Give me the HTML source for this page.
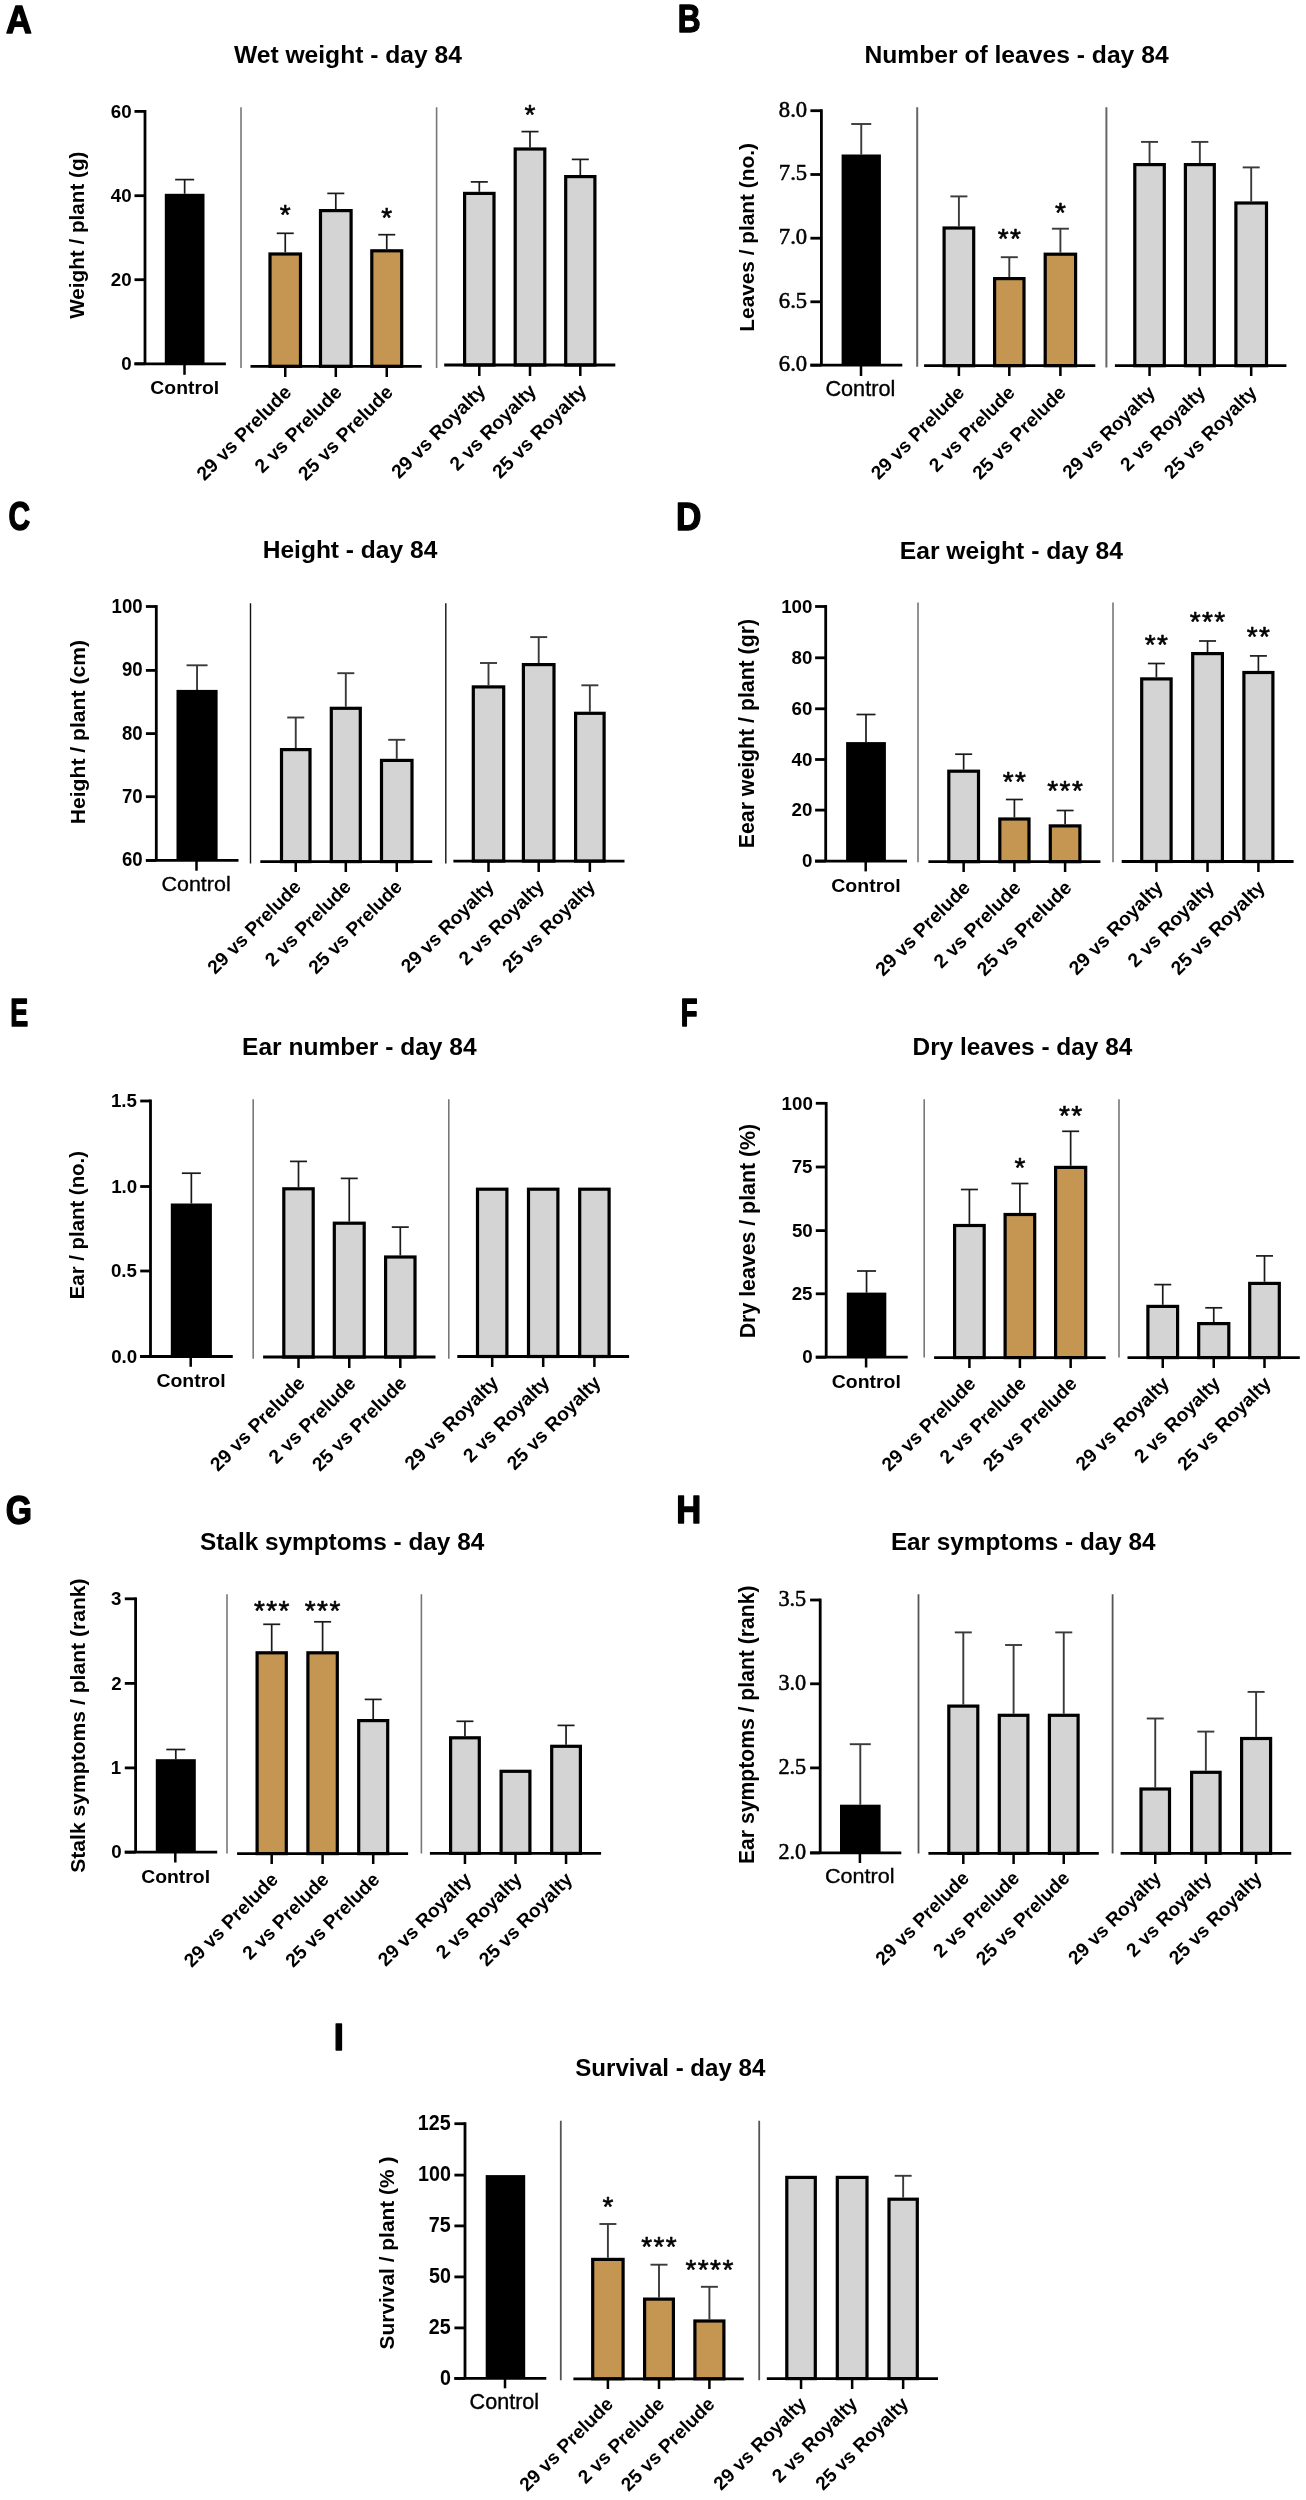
<!DOCTYPE html>
<html><head><meta charset="utf-8"><title>Figure</title>
<style>html,body{margin:0;padding:0;background:#fff;} svg{display:block;will-change:transform;}</style>
</head><body>
<svg width="1306" height="2500" viewBox="0 0 1306 2500">
<rect width="1306" height="2500" fill="#fff"/>
<!-- panel A -->
<text x="6.11" y="32.8" font-family='"Liberation Sans", sans-serif' font-weight="bold" font-size="38.26" textLength="25.76" lengthAdjust="spacingAndGlyphs" stroke="#000" stroke-width="1.4" stroke-linejoin="round">A</text>
<text x="233.9" y="62.8" font-family='"Liberation Sans", sans-serif' font-weight="bold" font-size="24.64">Wet weight - day 84</text>
<text transform="translate(84.2,318.8) rotate(-90)" font-family='"Liberation Sans", sans-serif' font-weight="bold" font-size="20.68">Weight / plant (g)</text>
<line x1="145" y1="110" x2="145" y2="363.8" stroke="#000" stroke-width="2.8"/>
<line x1="134.5" y1="111.4" x2="145" y2="111.4" stroke="#000" stroke-width="2.8"/>
<text x="110.76" y="117.65" font-family='"Liberation Sans", sans-serif' font-weight="bold" font-size="18.73" textLength="20.84" lengthAdjust="spacingAndGlyphs">60</text>
<line x1="134.5" y1="195.7" x2="145" y2="195.7" stroke="#000" stroke-width="2.8"/>
<text x="110.76" y="201.95" font-family='"Liberation Sans", sans-serif' font-weight="bold" font-size="18.73" textLength="20.84" lengthAdjust="spacingAndGlyphs">40</text>
<line x1="134.5" y1="279.7" x2="145" y2="279.7" stroke="#000" stroke-width="2.8"/>
<text x="110.76" y="285.95" font-family='"Liberation Sans", sans-serif' font-weight="bold" font-size="18.73" textLength="20.84" lengthAdjust="spacingAndGlyphs">20</text>
<line x1="134.5" y1="363.8" x2="145" y2="363.8" stroke="#000" stroke-width="2.8"/>
<text x="121.15" y="370.05" font-family='"Liberation Sans", sans-serif' font-weight="bold" font-size="18.73" textLength="10.42" lengthAdjust="spacingAndGlyphs">0</text>
<line x1="184.65" y1="179.6" x2="184.65" y2="193.8" stroke="#1a1a1a" stroke-width="1.7"/>
<line x1="175.15" y1="179.6" x2="194.15" y2="179.6" stroke="#1a1a1a" stroke-width="1.7"/>
<rect x="164.8" y="193.8" width="39.7" height="170" fill="#000"/>
<line x1="134.5" y1="363.8" x2="225.9" y2="363.8" stroke="#000" stroke-width="2.8"/>
<line x1="184.5" y1="363.8" x2="184.5" y2="374.8" stroke="#000" stroke-width="2.52"/>
<line x1="241" y1="107.2" x2="241" y2="368" stroke="#777" stroke-width="1.6"/>
<line x1="436.6" y1="107.2" x2="436.6" y2="368" stroke="#777" stroke-width="1.6"/>
<line x1="285.25" y1="233.3" x2="285.25" y2="252.4" stroke="#1a1a1a" stroke-width="1.7"/>
<line x1="276.75" y1="233.3" x2="293.75" y2="233.3" stroke="#1a1a1a" stroke-width="1.7"/>
<rect x="270" y="254" width="30.5" height="112.3" fill="#C59552" stroke="#000" stroke-width="3.2"/>
<line x1="285.25" y1="366.3" x2="285.25" y2="377" stroke="#000" stroke-width="2.52"/>
<text x="279.79" y="224.42" letter-spacing="1.4" font-family='"Liberation Sans", sans-serif' font-size="28" stroke="#000" stroke-width="0.6" stroke-linejoin="round">*</text>
<line x1="335.8" y1="193.4" x2="335.8" y2="209" stroke="#1a1a1a" stroke-width="1.7"/>
<line x1="327.3" y1="193.4" x2="344.3" y2="193.4" stroke="#1a1a1a" stroke-width="1.7"/>
<rect x="320.5" y="210.6" width="30.6" height="155.7" fill="#D4D4D4" stroke="#000" stroke-width="3.2"/>
<line x1="335.8" y1="366.3" x2="335.8" y2="377" stroke="#000" stroke-width="2.52"/>
<line x1="386.75" y1="234.7" x2="386.75" y2="249.2" stroke="#1a1a1a" stroke-width="1.7"/>
<line x1="378.25" y1="234.7" x2="395.25" y2="234.7" stroke="#1a1a1a" stroke-width="1.7"/>
<rect x="371.8" y="250.8" width="29.9" height="115.5" fill="#C59552" stroke="#000" stroke-width="3.2"/>
<line x1="386.75" y1="366.3" x2="386.75" y2="377" stroke="#000" stroke-width="2.52"/>
<text x="381.29" y="226.72" letter-spacing="1.4" font-family='"Liberation Sans", sans-serif' font-size="28" stroke="#000" stroke-width="0.6" stroke-linejoin="round">*</text>
<line x1="250.5" y1="366.3" x2="421.7" y2="366.3" stroke="#000" stroke-width="2.8"/>
<line x1="479.3" y1="181.9" x2="479.3" y2="191.8" stroke="#1a1a1a" stroke-width="1.7"/>
<line x1="470.8" y1="181.9" x2="487.8" y2="181.9" stroke="#1a1a1a" stroke-width="1.7"/>
<rect x="464.6" y="193.4" width="29.4" height="171.6" fill="#D4D4D4" stroke="#000" stroke-width="3.2"/>
<line x1="479.3" y1="365" x2="479.3" y2="376" stroke="#000" stroke-width="2.52"/>
<line x1="530" y1="131.6" x2="530" y2="147.4" stroke="#1a1a1a" stroke-width="1.7"/>
<line x1="521.5" y1="131.6" x2="538.5" y2="131.6" stroke="#1a1a1a" stroke-width="1.7"/>
<rect x="515.2" y="149" width="29.6" height="216" fill="#D4D4D4" stroke="#000" stroke-width="3.2"/>
<line x1="530" y1="365" x2="530" y2="376" stroke="#000" stroke-width="2.52"/>
<text x="524.54" y="124.02" letter-spacing="1.4" font-family='"Liberation Sans", sans-serif' font-size="28" stroke="#000" stroke-width="0.6" stroke-linejoin="round">*</text>
<line x1="580.3" y1="159.4" x2="580.3" y2="175" stroke="#1a1a1a" stroke-width="1.7"/>
<line x1="571.8" y1="159.4" x2="588.8" y2="159.4" stroke="#1a1a1a" stroke-width="1.7"/>
<rect x="565.7" y="176.6" width="29.2" height="188.4" fill="#D4D4D4" stroke="#000" stroke-width="3.2"/>
<line x1="580.3" y1="365" x2="580.3" y2="376" stroke="#000" stroke-width="2.52"/>
<line x1="444.2" y1="365" x2="615.3" y2="365" stroke="#000" stroke-width="2.8"/>
<text x="150.33" y="394.2" font-family='"Liberation Sans", sans-serif' font-weight="bold" font-size="18.62" textLength="68.82" lengthAdjust="spacingAndGlyphs">Control</text>
<text class="rl" transform="translate(292.55,393.4) rotate(-45)" text-anchor="end" font-family='"Liberation Sans", sans-serif' font-weight="bold" font-size="19.33">29 vs Prelude</text>
<text class="rl" transform="translate(343.1,393.4) rotate(-45)" text-anchor="end" font-family='"Liberation Sans", sans-serif' font-weight="bold" font-size="19.33">2 vs Prelude</text>
<text class="rl" transform="translate(394.05,393.4) rotate(-45)" text-anchor="end" font-family='"Liberation Sans", sans-serif' font-weight="bold" font-size="19.33">25 vs Prelude</text>
<text class="rl" transform="translate(486.6,392.1) rotate(-45)" text-anchor="end" font-family='"Liberation Sans", sans-serif' font-weight="bold" font-size="19.33">29 vs Royalty</text>
<text class="rl" transform="translate(537.3,392.1) rotate(-45)" text-anchor="end" font-family='"Liberation Sans", sans-serif' font-weight="bold" font-size="19.33">2 vs Royalty</text>
<text class="rl" transform="translate(587.6,392.1) rotate(-45)" text-anchor="end" font-family='"Liberation Sans", sans-serif' font-weight="bold" font-size="19.33">25 vs Royalty</text>
<!-- panel B -->
<text x="677.74" y="32.4" font-family='"Liberation Sans", sans-serif' font-weight="bold" font-size="37.97" textLength="22.85" lengthAdjust="spacingAndGlyphs" stroke="#000" stroke-width="1.4" stroke-linejoin="round">B</text>
<text x="864.4" y="62.8" font-family='"Liberation Sans", sans-serif' font-weight="bold" font-size="24.66">Number of leaves - day 84</text>
<text transform="translate(753.89,331.65) rotate(-90)" font-family='"Liberation Sans", sans-serif' font-weight="bold" font-size="20.82">Leaves / plant (no.)</text>
<line x1="821.4" y1="109.3" x2="821.4" y2="365.2" stroke="#000" stroke-width="2.8"/>
<line x1="810.4" y1="110.7" x2="821.4" y2="110.7" stroke="#000" stroke-width="2.8"/>
<text x="778.87" y="116.65" font-family='"Liberation Serif", serif' font-weight="normal" font-size="22.67" textLength="28.33" lengthAdjust="spacingAndGlyphs" stroke="#000" stroke-width="0.55">8.0</text>
<line x1="810.4" y1="174.5" x2="821.4" y2="174.5" stroke="#000" stroke-width="2.8"/>
<text x="778.87" y="180.45" font-family='"Liberation Serif", serif' font-weight="normal" font-size="22.67" textLength="28.33" lengthAdjust="spacingAndGlyphs" stroke="#000" stroke-width="0.55">7.5</text>
<line x1="810.4" y1="238.2" x2="821.4" y2="238.2" stroke="#000" stroke-width="2.8"/>
<text x="778.87" y="244.15" font-family='"Liberation Serif", serif' font-weight="normal" font-size="22.67" textLength="28.33" lengthAdjust="spacingAndGlyphs" stroke="#000" stroke-width="0.55">7.0</text>
<line x1="810.4" y1="301.8" x2="821.4" y2="301.8" stroke="#000" stroke-width="2.8"/>
<text x="778.87" y="307.75" font-family='"Liberation Serif", serif' font-weight="normal" font-size="22.67" textLength="28.33" lengthAdjust="spacingAndGlyphs" stroke="#000" stroke-width="0.55">6.5</text>
<line x1="810.4" y1="365.2" x2="821.4" y2="365.2" stroke="#000" stroke-width="2.8"/>
<text x="778.87" y="371.15" font-family='"Liberation Serif", serif' font-weight="normal" font-size="22.67" textLength="28.33" lengthAdjust="spacingAndGlyphs" stroke="#000" stroke-width="0.55">6.0</text>
<line x1="861.25" y1="124" x2="861.25" y2="154.5" stroke="#3a3a3a" stroke-width="1.9"/>
<line x1="851.25" y1="124" x2="871.25" y2="124" stroke="#3a3a3a" stroke-width="1.9"/>
<rect x="841.6" y="154.5" width="39.3" height="210.7" fill="#000"/>
<line x1="810.4" y1="365.2" x2="902.3" y2="365.2" stroke="#000" stroke-width="2.8"/>
<line x1="861" y1="365.2" x2="861" y2="376" stroke="#000" stroke-width="2.52"/>
<line x1="917.2" y1="107.2" x2="917.2" y2="366.8" stroke="#666" stroke-width="2"/>
<line x1="1106.4" y1="107.2" x2="1106.4" y2="367.5" stroke="#666" stroke-width="2"/>
<line x1="958.9" y1="196.4" x2="958.9" y2="226.4" stroke="#3a3a3a" stroke-width="1.9"/>
<line x1="950.4" y1="196.4" x2="967.4" y2="196.4" stroke="#3a3a3a" stroke-width="1.9"/>
<rect x="944.1" y="228" width="29.6" height="137.7" fill="#D4D4D4" stroke="#000" stroke-width="3.2"/>
<line x1="958.9" y1="365.7" x2="958.9" y2="376" stroke="#000" stroke-width="2.52"/>
<line x1="1009.3" y1="257.2" x2="1009.3" y2="277" stroke="#3a3a3a" stroke-width="1.9"/>
<line x1="1000.8" y1="257.2" x2="1017.8" y2="257.2" stroke="#3a3a3a" stroke-width="1.9"/>
<rect x="994.6" y="278.6" width="29.4" height="87.1" fill="#C59552" stroke="#000" stroke-width="3.2"/>
<line x1="1009.3" y1="365.7" x2="1009.3" y2="376" stroke="#000" stroke-width="2.52"/>
<text x="997.69" y="248.42" letter-spacing="1.4" font-family='"Liberation Sans", sans-serif' font-size="28" stroke="#000" stroke-width="0.6" stroke-linejoin="round">**</text>
<line x1="1060.4" y1="228.7" x2="1060.4" y2="252.6" stroke="#3a3a3a" stroke-width="1.9"/>
<line x1="1051.9" y1="228.7" x2="1068.9" y2="228.7" stroke="#3a3a3a" stroke-width="1.9"/>
<rect x="1045.2" y="254.2" width="30.4" height="111.5" fill="#C59552" stroke="#000" stroke-width="3.2"/>
<line x1="1060.4" y1="365.7" x2="1060.4" y2="376" stroke="#000" stroke-width="2.52"/>
<text x="1054.94" y="222.12" letter-spacing="1.4" font-family='"Liberation Sans", sans-serif' font-size="28" stroke="#000" stroke-width="0.6" stroke-linejoin="round">*</text>
<line x1="924.1" y1="365.7" x2="1095.3" y2="365.7" stroke="#000" stroke-width="2.8"/>
<line x1="1149.55" y1="141.9" x2="1149.55" y2="163" stroke="#3a3a3a" stroke-width="1.9"/>
<line x1="1141.05" y1="141.9" x2="1158.05" y2="141.9" stroke="#3a3a3a" stroke-width="1.9"/>
<rect x="1134.8" y="164.6" width="29.5" height="201.1" fill="#D4D4D4" stroke="#000" stroke-width="3.2"/>
<line x1="1149.55" y1="365.7" x2="1149.55" y2="376" stroke="#000" stroke-width="2.52"/>
<line x1="1199.85" y1="141.9" x2="1199.85" y2="163" stroke="#3a3a3a" stroke-width="1.9"/>
<line x1="1191.35" y1="141.9" x2="1208.35" y2="141.9" stroke="#3a3a3a" stroke-width="1.9"/>
<rect x="1185.4" y="164.6" width="28.9" height="201.1" fill="#D4D4D4" stroke="#000" stroke-width="3.2"/>
<line x1="1199.85" y1="365.7" x2="1199.85" y2="376" stroke="#000" stroke-width="2.52"/>
<line x1="1251.2" y1="167.4" x2="1251.2" y2="201.4" stroke="#3a3a3a" stroke-width="1.9"/>
<line x1="1242.7" y1="167.4" x2="1259.7" y2="167.4" stroke="#3a3a3a" stroke-width="1.9"/>
<rect x="1235.9" y="203" width="30.6" height="162.7" fill="#D4D4D4" stroke="#000" stroke-width="3.2"/>
<line x1="1251.2" y1="365.7" x2="1251.2" y2="376" stroke="#000" stroke-width="2.52"/>
<line x1="1114.9" y1="365.7" x2="1286.4" y2="365.7" stroke="#000" stroke-width="2.8"/>
<text x="825.42" y="395.7" font-family='"Liberation Sans", sans-serif' font-weight="normal" font-size="21.24" textLength="69.87" lengthAdjust="spacingAndGlyphs" stroke="#000" stroke-width="0.35">Control</text>
<text class="rl" transform="translate(965.6,393.7) rotate(-45)" text-anchor="end" font-family='"Liberation Sans", sans-serif' font-weight="bold" font-size="19.04">29 vs Prelude</text>
<text class="rl" transform="translate(1016,393.7) rotate(-45)" text-anchor="end" font-family='"Liberation Sans", sans-serif' font-weight="bold" font-size="19.04">2 vs Prelude</text>
<text class="rl" transform="translate(1067.1,393.7) rotate(-45)" text-anchor="end" font-family='"Liberation Sans", sans-serif' font-weight="bold" font-size="19.04">25 vs Prelude</text>
<text class="rl" transform="translate(1156.25,393.7) rotate(-45)" text-anchor="end" font-family='"Liberation Sans", sans-serif' font-weight="bold" font-size="19.04">29 vs Royalty</text>
<text class="rl" transform="translate(1206.55,393.7) rotate(-45)" text-anchor="end" font-family='"Liberation Sans", sans-serif' font-weight="bold" font-size="19.04">2 vs Royalty</text>
<text class="rl" transform="translate(1257.9,393.7) rotate(-45)" text-anchor="end" font-family='"Liberation Sans", sans-serif' font-weight="bold" font-size="19.04">25 vs Royalty</text>
<!-- panel C -->
<text x="8.5" y="530.4" font-family='"Liberation Sans", sans-serif' font-weight="bold" font-size="40.29" textLength="21.72" lengthAdjust="spacingAndGlyphs" stroke="#000" stroke-width="1.4" stroke-linejoin="round">C</text>
<text x="262.7" y="557.9" font-family='"Liberation Sans", sans-serif' font-weight="bold" font-size="24.55">Height - day 84</text>
<text transform="translate(84.53,824.27) rotate(-90)" font-family='"Liberation Sans", sans-serif' font-weight="bold" font-size="21.14">Height / plant (cm)</text>
<line x1="156.3" y1="605.1" x2="156.3" y2="860.4" stroke="#000" stroke-width="2.8"/>
<line x1="145.9" y1="606.5" x2="156.3" y2="606.5" stroke="#000" stroke-width="2.8"/>
<text x="111.6" y="612.55" font-family='"Liberation Sans", sans-serif' font-weight="bold" font-size="20.42" textLength="31.01" lengthAdjust="spacingAndGlyphs">100</text>
<line x1="145.9" y1="670.4" x2="156.3" y2="670.4" stroke="#000" stroke-width="2.8"/>
<text x="121.91" y="676.45" font-family='"Liberation Sans", sans-serif' font-weight="bold" font-size="20.42" textLength="20.67" lengthAdjust="spacingAndGlyphs">90</text>
<line x1="145.9" y1="733.6" x2="156.3" y2="733.6" stroke="#000" stroke-width="2.8"/>
<text x="121.91" y="739.65" font-family='"Liberation Sans", sans-serif' font-weight="bold" font-size="20.42" textLength="20.67" lengthAdjust="spacingAndGlyphs">80</text>
<line x1="145.9" y1="796.7" x2="156.3" y2="796.7" stroke="#000" stroke-width="2.8"/>
<text x="121.91" y="802.75" font-family='"Liberation Sans", sans-serif' font-weight="bold" font-size="20.42" textLength="20.67" lengthAdjust="spacingAndGlyphs">70</text>
<line x1="145.9" y1="860.4" x2="156.3" y2="860.4" stroke="#000" stroke-width="2.8"/>
<text x="121.91" y="866.45" font-family='"Liberation Sans", sans-serif' font-weight="bold" font-size="20.42" textLength="20.67" lengthAdjust="spacingAndGlyphs">60</text>
<line x1="197.05" y1="665.3" x2="197.05" y2="689.9" stroke="#3a3a3a" stroke-width="1.9"/>
<line x1="186.55" y1="665.3" x2="207.55" y2="665.3" stroke="#3a3a3a" stroke-width="1.9"/>
<rect x="176.5" y="689.9" width="41.1" height="170.5" fill="#000"/>
<line x1="145.9" y1="860.4" x2="238.5" y2="860.4" stroke="#000" stroke-width="2.8"/>
<line x1="196.5" y1="860.4" x2="196.5" y2="870.7" stroke="#000" stroke-width="2.52"/>
<line x1="250.5" y1="603.3" x2="250.5" y2="863.4" stroke="#111" stroke-width="1.4"/>
<line x1="445.8" y1="603.3" x2="445.8" y2="863.4" stroke="#111" stroke-width="1.4"/>
<line x1="295.75" y1="717.5" x2="295.75" y2="748" stroke="#3a3a3a" stroke-width="1.9"/>
<line x1="287.25" y1="717.5" x2="304.25" y2="717.5" stroke="#3a3a3a" stroke-width="1.9"/>
<rect x="281.5" y="749.6" width="28.5" height="112" fill="#D4D4D4" stroke="#000" stroke-width="3.2"/>
<line x1="295.75" y1="861.6" x2="295.75" y2="872" stroke="#000" stroke-width="2.52"/>
<line x1="345.8" y1="673.2" x2="345.8" y2="706.7" stroke="#3a3a3a" stroke-width="1.9"/>
<line x1="337.3" y1="673.2" x2="354.3" y2="673.2" stroke="#3a3a3a" stroke-width="1.9"/>
<rect x="331.3" y="708.3" width="29" height="153.3" fill="#D4D4D4" stroke="#000" stroke-width="3.2"/>
<line x1="345.8" y1="861.6" x2="345.8" y2="872" stroke="#000" stroke-width="2.52"/>
<line x1="396.75" y1="739.8" x2="396.75" y2="758.8" stroke="#3a3a3a" stroke-width="1.9"/>
<line x1="388.25" y1="739.8" x2="405.25" y2="739.8" stroke="#3a3a3a" stroke-width="1.9"/>
<rect x="381.5" y="760.4" width="30.5" height="101.2" fill="#D4D4D4" stroke="#000" stroke-width="3.2"/>
<line x1="396.75" y1="861.6" x2="396.75" y2="872" stroke="#000" stroke-width="2.52"/>
<line x1="260.3" y1="861.6" x2="432.2" y2="861.6" stroke="#000" stroke-width="2.8"/>
<line x1="488.5" y1="663" x2="488.5" y2="685.3" stroke="#3a3a3a" stroke-width="1.9"/>
<line x1="480" y1="663" x2="497" y2="663" stroke="#3a3a3a" stroke-width="1.9"/>
<rect x="473.3" y="686.9" width="30.4" height="174.2" fill="#D4D4D4" stroke="#000" stroke-width="3.2"/>
<line x1="488.5" y1="861.1" x2="488.5" y2="872" stroke="#000" stroke-width="2.52"/>
<line x1="538.7" y1="637.1" x2="538.7" y2="663" stroke="#3a3a3a" stroke-width="1.9"/>
<line x1="530.2" y1="637.1" x2="547.2" y2="637.1" stroke="#3a3a3a" stroke-width="1.9"/>
<rect x="523.4" y="664.6" width="30.6" height="196.5" fill="#D4D4D4" stroke="#000" stroke-width="3.2"/>
<line x1="538.7" y1="861.1" x2="538.7" y2="872" stroke="#000" stroke-width="2.52"/>
<line x1="589.85" y1="685.3" x2="589.85" y2="711.7" stroke="#3a3a3a" stroke-width="1.9"/>
<line x1="581.35" y1="685.3" x2="598.35" y2="685.3" stroke="#3a3a3a" stroke-width="1.9"/>
<rect x="575.6" y="713.3" width="28.5" height="147.8" fill="#D4D4D4" stroke="#000" stroke-width="3.2"/>
<line x1="589.85" y1="861.1" x2="589.85" y2="872" stroke="#000" stroke-width="2.52"/>
<line x1="453.4" y1="861.1" x2="624.5" y2="861.1" stroke="#000" stroke-width="2.8"/>
<text x="161.43" y="890.7" font-family='"Liberation Sans", sans-serif' font-weight="normal" font-size="20.83" textLength="69.25" lengthAdjust="spacingAndGlyphs" stroke="#000" stroke-width="0.35">Control</text>
<text class="rl" transform="translate(302.25,887.9) rotate(-45)" text-anchor="end" font-family='"Liberation Sans", sans-serif' font-weight="bold" font-size="19.1">29 vs Prelude</text>
<text class="rl" transform="translate(352.3,887.9) rotate(-45)" text-anchor="end" font-family='"Liberation Sans", sans-serif' font-weight="bold" font-size="19.1">2 vs Prelude</text>
<text class="rl" transform="translate(403.25,887.9) rotate(-45)" text-anchor="end" font-family='"Liberation Sans", sans-serif' font-weight="bold" font-size="19.1">25 vs Prelude</text>
<text class="rl" transform="translate(495,887.4) rotate(-45)" text-anchor="end" font-family='"Liberation Sans", sans-serif' font-weight="bold" font-size="19.1">29 vs Royalty</text>
<text class="rl" transform="translate(545.2,887.4) rotate(-45)" text-anchor="end" font-family='"Liberation Sans", sans-serif' font-weight="bold" font-size="19.1">2 vs Royalty</text>
<text class="rl" transform="translate(596.35,887.4) rotate(-45)" text-anchor="end" font-family='"Liberation Sans", sans-serif' font-weight="bold" font-size="19.1">25 vs Royalty</text>
<!-- panel D -->
<text x="676.12" y="529.7" font-family='"Liberation Sans", sans-serif' font-weight="bold" font-size="38.26" textLength="25.36" lengthAdjust="spacingAndGlyphs" stroke="#000" stroke-width="1.4" stroke-linejoin="round">D</text>
<text x="899.8" y="558.6" font-family='"Liberation Sans", sans-serif' font-weight="bold" font-size="24.63">Ear weight - day 84</text>
<text transform="translate(754.13,848.18) rotate(-90)" font-family='"Liberation Sans", sans-serif' font-weight="bold" font-size="21.28">Eear weight / plant (gr)</text>
<line x1="825.7" y1="605.1" x2="825.7" y2="861.1" stroke="#000" stroke-width="2.8"/>
<line x1="815.1" y1="606.5" x2="825.7" y2="606.5" stroke="#000" stroke-width="2.8"/>
<text x="781.16" y="612.85" font-family='"Liberation Sans", sans-serif' font-weight="bold" font-size="18.73" textLength="31.26" lengthAdjust="spacingAndGlyphs">100</text>
<line x1="815.1" y1="657.8" x2="825.7" y2="657.8" stroke="#000" stroke-width="2.8"/>
<text x="791.56" y="664.15" font-family='"Liberation Sans", sans-serif' font-weight="bold" font-size="18.73" textLength="20.84" lengthAdjust="spacingAndGlyphs">80</text>
<line x1="815.1" y1="708.8" x2="825.7" y2="708.8" stroke="#000" stroke-width="2.8"/>
<text x="791.56" y="715.15" font-family='"Liberation Sans", sans-serif' font-weight="bold" font-size="18.73" textLength="20.84" lengthAdjust="spacingAndGlyphs">60</text>
<line x1="815.1" y1="759.5" x2="825.7" y2="759.5" stroke="#000" stroke-width="2.8"/>
<text x="791.56" y="765.85" font-family='"Liberation Sans", sans-serif' font-weight="bold" font-size="18.73" textLength="20.84" lengthAdjust="spacingAndGlyphs">40</text>
<line x1="815.1" y1="810.1" x2="825.7" y2="810.1" stroke="#000" stroke-width="2.8"/>
<text x="791.56" y="816.45" font-family='"Liberation Sans", sans-serif' font-weight="bold" font-size="18.73" textLength="20.84" lengthAdjust="spacingAndGlyphs">20</text>
<line x1="815.1" y1="861.1" x2="825.7" y2="861.1" stroke="#000" stroke-width="2.8"/>
<text x="801.95" y="867.45" font-family='"Liberation Sans", sans-serif' font-weight="bold" font-size="18.73" textLength="10.42" lengthAdjust="spacingAndGlyphs">0</text>
<line x1="866" y1="714.5" x2="866" y2="742.1" stroke="#1a1a1a" stroke-width="1.7"/>
<line x1="856.5" y1="714.5" x2="875.5" y2="714.5" stroke="#1a1a1a" stroke-width="1.7"/>
<rect x="846.1" y="742.1" width="39.8" height="119" fill="#000"/>
<line x1="815.1" y1="861.1" x2="907" y2="861.1" stroke="#000" stroke-width="2.8"/>
<line x1="865.7" y1="861.1" x2="865.7" y2="871.4" stroke="#000" stroke-width="2.52"/>
<line x1="918" y1="602.6" x2="918" y2="862.2" stroke="#777" stroke-width="1.6"/>
<line x1="1113" y1="602.6" x2="1113" y2="862.2" stroke="#777" stroke-width="1.6"/>
<line x1="963.65" y1="754.2" x2="963.65" y2="769.6" stroke="#1a1a1a" stroke-width="1.7"/>
<line x1="955.15" y1="754.2" x2="972.15" y2="754.2" stroke="#1a1a1a" stroke-width="1.7"/>
<rect x="948.8" y="771.2" width="29.7" height="90.5" fill="#D4D4D4" stroke="#000" stroke-width="3.2"/>
<line x1="963.65" y1="861.7" x2="963.65" y2="872" stroke="#000" stroke-width="2.52"/>
<line x1="1014.4" y1="799.5" x2="1014.4" y2="817.4" stroke="#1a1a1a" stroke-width="1.7"/>
<line x1="1005.9" y1="799.5" x2="1022.9" y2="799.5" stroke="#1a1a1a" stroke-width="1.7"/>
<rect x="999.8" y="819" width="29.2" height="42.7" fill="#C59552" stroke="#000" stroke-width="3.2"/>
<line x1="1014.4" y1="861.7" x2="1014.4" y2="872" stroke="#000" stroke-width="2.52"/>
<text x="1002.79" y="791.02" letter-spacing="1.4" font-family='"Liberation Sans", sans-serif' font-size="28" stroke="#000" stroke-width="0.6" stroke-linejoin="round">**</text>
<line x1="1065.1" y1="810.5" x2="1065.1" y2="824.3" stroke="#1a1a1a" stroke-width="1.7"/>
<line x1="1056.6" y1="810.5" x2="1073.6" y2="810.5" stroke="#1a1a1a" stroke-width="1.7"/>
<rect x="1050.3" y="825.9" width="29.6" height="35.8" fill="#C59552" stroke="#000" stroke-width="3.2"/>
<line x1="1065.1" y1="861.7" x2="1065.1" y2="872" stroke="#000" stroke-width="2.52"/>
<text x="1047.34" y="800.22" letter-spacing="1.4" font-family='"Liberation Sans", sans-serif' font-size="28" stroke="#000" stroke-width="0.6" stroke-linejoin="round">***</text>
<line x1="928.4" y1="861.7" x2="1100.4" y2="861.7" stroke="#000" stroke-width="2.8"/>
<line x1="1156.4" y1="663.5" x2="1156.4" y2="677.3" stroke="#1a1a1a" stroke-width="1.7"/>
<line x1="1147.9" y1="663.5" x2="1164.9" y2="663.5" stroke="#1a1a1a" stroke-width="1.7"/>
<rect x="1141.7" y="678.9" width="29.4" height="182.6" fill="#D4D4D4" stroke="#000" stroke-width="3.2"/>
<line x1="1156.4" y1="861.5" x2="1156.4" y2="872" stroke="#000" stroke-width="2.52"/>
<text x="1144.79" y="654.42" letter-spacing="1.4" font-family='"Liberation Sans", sans-serif' font-size="28" stroke="#000" stroke-width="0.6" stroke-linejoin="round">**</text>
<line x1="1207.55" y1="641" x2="1207.55" y2="652" stroke="#1a1a1a" stroke-width="1.7"/>
<line x1="1199.05" y1="641" x2="1216.05" y2="641" stroke="#1a1a1a" stroke-width="1.7"/>
<rect x="1192.7" y="653.6" width="29.7" height="207.9" fill="#D4D4D4" stroke="#000" stroke-width="3.2"/>
<line x1="1207.55" y1="861.5" x2="1207.55" y2="872" stroke="#000" stroke-width="2.52"/>
<text x="1189.79" y="631.42" letter-spacing="1.4" font-family='"Liberation Sans", sans-serif' font-size="28" stroke="#000" stroke-width="0.6" stroke-linejoin="round">***</text>
<line x1="1258.4" y1="655.9" x2="1258.4" y2="670.9" stroke="#1a1a1a" stroke-width="1.7"/>
<line x1="1249.9" y1="655.9" x2="1266.9" y2="655.9" stroke="#1a1a1a" stroke-width="1.7"/>
<rect x="1243.9" y="672.5" width="29" height="189" fill="#D4D4D4" stroke="#000" stroke-width="3.2"/>
<line x1="1258.4" y1="861.5" x2="1258.4" y2="872" stroke="#000" stroke-width="2.52"/>
<text x="1246.79" y="646.32" letter-spacing="1.4" font-family='"Liberation Sans", sans-serif' font-size="28" stroke="#000" stroke-width="0.6" stroke-linejoin="round">**</text>
<line x1="1121.7" y1="861.5" x2="1293.6" y2="861.5" stroke="#000" stroke-width="2.8"/>
<text x="831.22" y="891.6" font-family='"Liberation Sans", sans-serif' font-weight="bold" font-size="18.76" textLength="69.34" lengthAdjust="spacingAndGlyphs">Control</text>
<text class="rl" transform="translate(971.35,888.8) rotate(-45)" text-anchor="end" font-family='"Liberation Sans", sans-serif' font-weight="bold" font-size="19.33">29 vs Prelude</text>
<text class="rl" transform="translate(1022.1,888.8) rotate(-45)" text-anchor="end" font-family='"Liberation Sans", sans-serif' font-weight="bold" font-size="19.33">2 vs Prelude</text>
<text class="rl" transform="translate(1072.8,888.8) rotate(-45)" text-anchor="end" font-family='"Liberation Sans", sans-serif' font-weight="bold" font-size="19.33">25 vs Prelude</text>
<text class="rl" transform="translate(1164.1,888.6) rotate(-45)" text-anchor="end" font-family='"Liberation Sans", sans-serif' font-weight="bold" font-size="19.33">29 vs Royalty</text>
<text class="rl" transform="translate(1215.25,888.6) rotate(-45)" text-anchor="end" font-family='"Liberation Sans", sans-serif' font-weight="bold" font-size="19.33">2 vs Royalty</text>
<text class="rl" transform="translate(1266.1,888.6) rotate(-45)" text-anchor="end" font-family='"Liberation Sans", sans-serif' font-weight="bold" font-size="19.33">25 vs Royalty</text>
<!-- panel E -->
<text x="10.15" y="1026.1" font-family='"Liberation Sans", sans-serif' font-weight="bold" font-size="38.26" textLength="17.94" lengthAdjust="spacingAndGlyphs" stroke="#000" stroke-width="1.4" stroke-linejoin="round">E</text>
<text x="242.1" y="1054.5" font-family='"Liberation Sans", sans-serif' font-weight="bold" font-size="24.54">Ear number - day 84</text>
<text transform="translate(84.17,1299.22) rotate(-90)" font-family='"Liberation Sans", sans-serif' font-weight="bold" font-size="20.38">Ear / plant (no.)</text>
<line x1="150.5" y1="1099.6" x2="150.5" y2="1356.5" stroke="#000" stroke-width="2.8"/>
<line x1="140.2" y1="1101" x2="150.5" y2="1101" stroke="#000" stroke-width="2.8"/>
<text x="110.93" y="1107.25" font-family='"Liberation Sans", sans-serif' font-weight="bold" font-size="18.73" textLength="26.04" lengthAdjust="spacingAndGlyphs">1.5</text>
<line x1="140.2" y1="1186.5" x2="150.5" y2="1186.5" stroke="#000" stroke-width="2.8"/>
<text x="111.21" y="1192.75" font-family='"Liberation Sans", sans-serif' font-weight="bold" font-size="18.73" textLength="26.04" lengthAdjust="spacingAndGlyphs">1.0</text>
<line x1="140.2" y1="1271" x2="150.5" y2="1271" stroke="#000" stroke-width="2.8"/>
<text x="110.93" y="1277.25" font-family='"Liberation Sans", sans-serif' font-weight="bold" font-size="18.73" textLength="26.04" lengthAdjust="spacingAndGlyphs">0.5</text>
<line x1="140.2" y1="1356.5" x2="150.5" y2="1356.5" stroke="#000" stroke-width="2.8"/>
<text x="111.21" y="1362.75" font-family='"Liberation Sans", sans-serif' font-weight="bold" font-size="18.73" textLength="26.04" lengthAdjust="spacingAndGlyphs">0.0</text>
<line x1="191.35" y1="1173.2" x2="191.35" y2="1203.5" stroke="#1a1a1a" stroke-width="1.7"/>
<line x1="181.85" y1="1173.2" x2="200.85" y2="1173.2" stroke="#1a1a1a" stroke-width="1.7"/>
<rect x="170.8" y="1203.5" width="41.1" height="153" fill="#000"/>
<line x1="140.2" y1="1356.5" x2="232.8" y2="1356.5" stroke="#000" stroke-width="2.8"/>
<line x1="190.7" y1="1356.5" x2="190.7" y2="1366.8" stroke="#000" stroke-width="2.52"/>
<line x1="253.2" y1="1099.2" x2="253.2" y2="1358.8" stroke="#777" stroke-width="1.6"/>
<line x1="448.8" y1="1099.2" x2="448.8" y2="1358.8" stroke="#777" stroke-width="1.6"/>
<line x1="298.5" y1="1161.4" x2="298.5" y2="1187.2" stroke="#1a1a1a" stroke-width="1.7"/>
<line x1="290" y1="1161.4" x2="307" y2="1161.4" stroke="#1a1a1a" stroke-width="1.7"/>
<rect x="283.8" y="1188.8" width="29.4" height="168.2" fill="#D4D4D4" stroke="#000" stroke-width="3.2"/>
<line x1="298.5" y1="1357" x2="298.5" y2="1368" stroke="#000" stroke-width="2.52"/>
<line x1="349.25" y1="1178.4" x2="349.25" y2="1221.6" stroke="#1a1a1a" stroke-width="1.7"/>
<line x1="340.75" y1="1178.4" x2="357.75" y2="1178.4" stroke="#1a1a1a" stroke-width="1.7"/>
<rect x="334.3" y="1223.2" width="29.9" height="133.8" fill="#D4D4D4" stroke="#000" stroke-width="3.2"/>
<line x1="349.25" y1="1357" x2="349.25" y2="1368" stroke="#000" stroke-width="2.52"/>
<line x1="400.3" y1="1227.1" x2="400.3" y2="1255.4" stroke="#1a1a1a" stroke-width="1.7"/>
<line x1="391.8" y1="1227.1" x2="408.8" y2="1227.1" stroke="#1a1a1a" stroke-width="1.7"/>
<rect x="385.6" y="1257" width="29.4" height="100" fill="#D4D4D4" stroke="#000" stroke-width="3.2"/>
<line x1="400.3" y1="1357" x2="400.3" y2="1368" stroke="#000" stroke-width="2.52"/>
<line x1="263.1" y1="1357" x2="435.5" y2="1357" stroke="#000" stroke-width="2.8"/>
<rect x="477.5" y="1189.2" width="29.4" height="167.3" fill="#D4D4D4" stroke="#000" stroke-width="3.2"/>
<line x1="492.2" y1="1356.5" x2="492.2" y2="1367" stroke="#000" stroke-width="2.52"/>
<rect x="528.5" y="1189.2" width="29.4" height="167.3" fill="#D4D4D4" stroke="#000" stroke-width="3.2"/>
<line x1="543.2" y1="1356.5" x2="543.2" y2="1367" stroke="#000" stroke-width="2.52"/>
<rect x="579.7" y="1189.2" width="29.4" height="167.3" fill="#D4D4D4" stroke="#000" stroke-width="3.2"/>
<line x1="594.4" y1="1356.5" x2="594.4" y2="1367" stroke="#000" stroke-width="2.52"/>
<line x1="457.3" y1="1356.5" x2="629.1" y2="1356.5" stroke="#000" stroke-width="2.8"/>
<text x="156.42" y="1387" font-family='"Liberation Sans", sans-serif' font-weight="bold" font-size="18.48" textLength="69.13" lengthAdjust="spacingAndGlyphs">Control</text>
<text class="rl" transform="translate(306,1384.3) rotate(-45)" text-anchor="end" font-family='"Liberation Sans", sans-serif' font-weight="bold" font-size="19.3">29 vs Prelude</text>
<text class="rl" transform="translate(356.75,1384.3) rotate(-45)" text-anchor="end" font-family='"Liberation Sans", sans-serif' font-weight="bold" font-size="19.3">2 vs Prelude</text>
<text class="rl" transform="translate(407.8,1384.3) rotate(-45)" text-anchor="end" font-family='"Liberation Sans", sans-serif' font-weight="bold" font-size="19.3">25 vs Prelude</text>
<text class="rl" transform="translate(499.7,1383.8) rotate(-45)" text-anchor="end" font-family='"Liberation Sans", sans-serif' font-weight="bold" font-size="19.3">29 vs Royalty</text>
<text class="rl" transform="translate(550.7,1383.8) rotate(-45)" text-anchor="end" font-family='"Liberation Sans", sans-serif' font-weight="bold" font-size="19.3">2 vs Royalty</text>
<text class="rl" transform="translate(601.9,1383.8) rotate(-45)" text-anchor="end" font-family='"Liberation Sans", sans-serif' font-weight="bold" font-size="19.3">25 vs Royalty</text>
<!-- panel F -->
<text x="680.72" y="1026.1" font-family='"Liberation Sans", sans-serif' font-weight="bold" font-size="38.26" textLength="16.77" lengthAdjust="spacingAndGlyphs" stroke="#000" stroke-width="1.4" stroke-linejoin="round">F</text>
<text x="912.51" y="1054.5" font-family='"Liberation Sans", sans-serif' font-weight="bold" font-size="24.42">Dry leaves - day 84</text>
<text transform="translate(754.56,1338.29) rotate(-90)" font-family='"Liberation Sans", sans-serif' font-weight="bold" font-size="21.32">Dry leaves / plant (%)</text>
<line x1="826.2" y1="1101.9" x2="826.2" y2="1357.2" stroke="#000" stroke-width="2.8"/>
<line x1="815.8" y1="1103.3" x2="826.2" y2="1103.3" stroke="#000" stroke-width="2.8"/>
<text x="781.56" y="1109.55" font-family='"Liberation Sans", sans-serif' font-weight="bold" font-size="18.73" textLength="31.26" lengthAdjust="spacingAndGlyphs">100</text>
<line x1="815.8" y1="1167" x2="826.2" y2="1167" stroke="#000" stroke-width="2.8"/>
<text x="791.68" y="1173.25" font-family='"Liberation Sans", sans-serif' font-weight="bold" font-size="18.73" textLength="20.84" lengthAdjust="spacingAndGlyphs">75</text>
<line x1="815.8" y1="1230.6" x2="826.2" y2="1230.6" stroke="#000" stroke-width="2.8"/>
<text x="791.96" y="1236.85" font-family='"Liberation Sans", sans-serif' font-weight="bold" font-size="18.73" textLength="20.84" lengthAdjust="spacingAndGlyphs">50</text>
<line x1="815.8" y1="1293.8" x2="826.2" y2="1293.8" stroke="#000" stroke-width="2.8"/>
<text x="791.68" y="1300.05" font-family='"Liberation Sans", sans-serif' font-weight="bold" font-size="18.73" textLength="20.84" lengthAdjust="spacingAndGlyphs">25</text>
<line x1="815.8" y1="1357.2" x2="826.2" y2="1357.2" stroke="#000" stroke-width="2.8"/>
<text x="802.35" y="1363.45" font-family='"Liberation Sans", sans-serif' font-weight="bold" font-size="18.73" textLength="10.42" lengthAdjust="spacingAndGlyphs">0</text>
<line x1="866.55" y1="1271" x2="866.55" y2="1292.6" stroke="#1a1a1a" stroke-width="1.7"/>
<line x1="857.05" y1="1271" x2="876.05" y2="1271" stroke="#1a1a1a" stroke-width="1.7"/>
<rect x="846.8" y="1292.6" width="39.5" height="64.6" fill="#000"/>
<line x1="815.8" y1="1357.2" x2="907.7" y2="1357.2" stroke="#000" stroke-width="2.8"/>
<line x1="866.1" y1="1357.2" x2="866.1" y2="1367.5" stroke="#000" stroke-width="2.52"/>
<line x1="924.2" y1="1099.2" x2="924.2" y2="1357.6" stroke="#777" stroke-width="1.6"/>
<line x1="1119" y1="1099.2" x2="1119" y2="1357.6" stroke="#777" stroke-width="1.6"/>
<line x1="969.4" y1="1189.5" x2="969.4" y2="1223.9" stroke="#1a1a1a" stroke-width="1.7"/>
<line x1="960.9" y1="1189.5" x2="977.9" y2="1189.5" stroke="#1a1a1a" stroke-width="1.7"/>
<rect x="954.6" y="1225.5" width="29.6" height="132.1" fill="#D4D4D4" stroke="#000" stroke-width="3.2"/>
<line x1="969.4" y1="1357.6" x2="969.4" y2="1368" stroke="#000" stroke-width="2.52"/>
<line x1="1019.9" y1="1183.5" x2="1019.9" y2="1212.9" stroke="#1a1a1a" stroke-width="1.7"/>
<line x1="1011.4" y1="1183.5" x2="1028.4" y2="1183.5" stroke="#1a1a1a" stroke-width="1.7"/>
<rect x="1005.1" y="1214.5" width="29.6" height="143.1" fill="#C59552" stroke="#000" stroke-width="3.2"/>
<line x1="1019.9" y1="1357.6" x2="1019.9" y2="1368" stroke="#000" stroke-width="2.52"/>
<text x="1014.44" y="1177.32" letter-spacing="1.4" font-family='"Liberation Sans", sans-serif' font-size="28" stroke="#000" stroke-width="0.6" stroke-linejoin="round">*</text>
<line x1="1070.65" y1="1131.3" x2="1070.65" y2="1165.8" stroke="#1a1a1a" stroke-width="1.7"/>
<line x1="1062.15" y1="1131.3" x2="1079.15" y2="1131.3" stroke="#1a1a1a" stroke-width="1.7"/>
<rect x="1055.6" y="1167.4" width="30.1" height="190.2" fill="#C59552" stroke="#000" stroke-width="3.2"/>
<line x1="1070.65" y1="1357.6" x2="1070.65" y2="1368" stroke="#000" stroke-width="2.52"/>
<text x="1059.04" y="1124.92" letter-spacing="1.4" font-family='"Liberation Sans", sans-serif' font-size="28" stroke="#000" stroke-width="0.6" stroke-linejoin="round">**</text>
<line x1="934.1" y1="1357.6" x2="1105.7" y2="1357.6" stroke="#000" stroke-width="2.8"/>
<line x1="1162.75" y1="1284.6" x2="1162.75" y2="1304.8" stroke="#1a1a1a" stroke-width="1.7"/>
<line x1="1154.25" y1="1284.6" x2="1171.25" y2="1284.6" stroke="#1a1a1a" stroke-width="1.7"/>
<rect x="1147.9" y="1306.4" width="29.7" height="51.2" fill="#D4D4D4" stroke="#000" stroke-width="3.2"/>
<line x1="1162.75" y1="1357.6" x2="1162.75" y2="1368" stroke="#000" stroke-width="2.52"/>
<line x1="1213.75" y1="1307.8" x2="1213.75" y2="1322" stroke="#1a1a1a" stroke-width="1.7"/>
<line x1="1205.25" y1="1307.8" x2="1222.25" y2="1307.8" stroke="#1a1a1a" stroke-width="1.7"/>
<rect x="1198.7" y="1323.6" width="30.1" height="34" fill="#D4D4D4" stroke="#000" stroke-width="3.2"/>
<line x1="1213.75" y1="1357.6" x2="1213.75" y2="1368" stroke="#000" stroke-width="2.52"/>
<line x1="1264.5" y1="1255.9" x2="1264.5" y2="1281.8" stroke="#1a1a1a" stroke-width="1.7"/>
<line x1="1256" y1="1255.9" x2="1273" y2="1255.9" stroke="#1a1a1a" stroke-width="1.7"/>
<rect x="1249.7" y="1283.4" width="29.6" height="74.2" fill="#D4D4D4" stroke="#000" stroke-width="3.2"/>
<line x1="1264.5" y1="1357.6" x2="1264.5" y2="1368" stroke="#000" stroke-width="2.52"/>
<line x1="1127.5" y1="1357.6" x2="1299.8" y2="1357.6" stroke="#000" stroke-width="2.8"/>
<text x="831.82" y="1387.6" font-family='"Liberation Sans", sans-serif' font-weight="bold" font-size="18.48" textLength="69.03" lengthAdjust="spacingAndGlyphs">Control</text>
<text class="rl" transform="translate(976.9,1384.8) rotate(-45)" text-anchor="end" font-family='"Liberation Sans", sans-serif' font-weight="bold" font-size="19.2">29 vs Prelude</text>
<text class="rl" transform="translate(1027.4,1384.8) rotate(-45)" text-anchor="end" font-family='"Liberation Sans", sans-serif' font-weight="bold" font-size="19.2">2 vs Prelude</text>
<text class="rl" transform="translate(1078.15,1384.8) rotate(-45)" text-anchor="end" font-family='"Liberation Sans", sans-serif' font-weight="bold" font-size="19.2">25 vs Prelude</text>
<text class="rl" transform="translate(1170.25,1384.8) rotate(-45)" text-anchor="end" font-family='"Liberation Sans", sans-serif' font-weight="bold" font-size="19.2">29 vs Royalty</text>
<text class="rl" transform="translate(1221.25,1384.8) rotate(-45)" text-anchor="end" font-family='"Liberation Sans", sans-serif' font-weight="bold" font-size="19.2">2 vs Royalty</text>
<text class="rl" transform="translate(1272,1384.8) rotate(-45)" text-anchor="end" font-family='"Liberation Sans", sans-serif' font-weight="bold" font-size="19.2">25 vs Royalty</text>
<!-- panel G -->
<text x="5.75" y="1523.8" font-family='"Liberation Sans", sans-serif' font-weight="bold" font-size="40" textLength="26.27" lengthAdjust="spacingAndGlyphs" stroke="#000" stroke-width="1.4" stroke-linejoin="round">G</text>
<text x="199.97" y="1550.4" font-family='"Liberation Sans", sans-serif' font-weight="bold" font-size="24.37">Stalk symptoms - day 84</text>
<text transform="translate(84.61,1872.83) rotate(-90)" font-family='"Liberation Sans", sans-serif' font-weight="bold" font-size="21.12">Stalk symptoms / plant (rank)</text>
<line x1="135.6" y1="1597.4" x2="135.6" y2="1852.2" stroke="#000" stroke-width="2.8"/>
<line x1="124.8" y1="1598.8" x2="135.6" y2="1598.8" stroke="#000" stroke-width="2.8"/>
<text x="111.06" y="1605.05" font-family='"Liberation Sans", sans-serif' font-weight="bold" font-size="18.73" textLength="10.42" lengthAdjust="spacingAndGlyphs">3</text>
<line x1="124.8" y1="1683.4" x2="135.6" y2="1683.4" stroke="#000" stroke-width="2.8"/>
<text x="111.15" y="1689.65" font-family='"Liberation Sans", sans-serif' font-weight="bold" font-size="18.73" textLength="10.42" lengthAdjust="spacingAndGlyphs">2</text>
<line x1="124.8" y1="1767.9" x2="135.6" y2="1767.9" stroke="#000" stroke-width="2.8"/>
<text x="110.87" y="1774.15" font-family='"Liberation Sans", sans-serif' font-weight="bold" font-size="18.73" textLength="10.42" lengthAdjust="spacingAndGlyphs">1</text>
<line x1="124.8" y1="1852.2" x2="135.6" y2="1852.2" stroke="#000" stroke-width="2.8"/>
<text x="111.15" y="1858.45" font-family='"Liberation Sans", sans-serif' font-weight="bold" font-size="18.73" textLength="10.42" lengthAdjust="spacingAndGlyphs">0</text>
<line x1="175.8" y1="1749.5" x2="175.8" y2="1759.2" stroke="#1a1a1a" stroke-width="1.7"/>
<line x1="166.3" y1="1749.5" x2="185.3" y2="1749.5" stroke="#1a1a1a" stroke-width="1.7"/>
<rect x="155.8" y="1759.2" width="40" height="93" fill="#000"/>
<line x1="124.8" y1="1852.2" x2="217.2" y2="1852.2" stroke="#000" stroke-width="2.8"/>
<line x1="175.3" y1="1852.2" x2="175.3" y2="1862.5" stroke="#000" stroke-width="2.52"/>
<line x1="227" y1="1594.2" x2="227" y2="1853.4" stroke="#777" stroke-width="1.6"/>
<line x1="421.4" y1="1594.2" x2="421.4" y2="1853.4" stroke="#777" stroke-width="1.6"/>
<line x1="271.7" y1="1624.3" x2="271.7" y2="1651.2" stroke="#1a1a1a" stroke-width="1.7"/>
<line x1="263.2" y1="1624.3" x2="280.2" y2="1624.3" stroke="#1a1a1a" stroke-width="1.7"/>
<rect x="257.1" y="1652.8" width="29.2" height="200.8" fill="#C59552" stroke="#000" stroke-width="3.2"/>
<line x1="271.7" y1="1853.6" x2="271.7" y2="1864" stroke="#000" stroke-width="2.52"/>
<text x="253.94" y="1619.52" letter-spacing="1.4" font-family='"Liberation Sans", sans-serif' font-size="28" stroke="#000" stroke-width="0.6" stroke-linejoin="round">***</text>
<line x1="322.6" y1="1621.8" x2="322.6" y2="1651.2" stroke="#1a1a1a" stroke-width="1.7"/>
<line x1="314.1" y1="1621.8" x2="331.1" y2="1621.8" stroke="#1a1a1a" stroke-width="1.7"/>
<rect x="307.9" y="1652.8" width="29.4" height="200.8" fill="#C59552" stroke="#000" stroke-width="3.2"/>
<line x1="322.6" y1="1853.6" x2="322.6" y2="1864" stroke="#000" stroke-width="2.52"/>
<text x="304.84" y="1619.52" letter-spacing="1.4" font-family='"Liberation Sans", sans-serif' font-size="28" stroke="#000" stroke-width="0.6" stroke-linejoin="round">***</text>
<line x1="373.2" y1="1699.4" x2="373.2" y2="1719" stroke="#1a1a1a" stroke-width="1.7"/>
<line x1="364.7" y1="1699.4" x2="381.7" y2="1699.4" stroke="#1a1a1a" stroke-width="1.7"/>
<rect x="358.7" y="1720.6" width="29" height="133" fill="#D4D4D4" stroke="#000" stroke-width="3.2"/>
<line x1="373.2" y1="1853.6" x2="373.2" y2="1864" stroke="#000" stroke-width="2.52"/>
<line x1="237.1" y1="1853.6" x2="408.1" y2="1853.6" stroke="#000" stroke-width="2.8"/>
<line x1="464.95" y1="1721.3" x2="464.95" y2="1736.2" stroke="#1a1a1a" stroke-width="1.7"/>
<line x1="456.45" y1="1721.3" x2="473.45" y2="1721.3" stroke="#1a1a1a" stroke-width="1.7"/>
<rect x="450.6" y="1737.8" width="28.7" height="115.6" fill="#D4D4D4" stroke="#000" stroke-width="3.2"/>
<line x1="464.95" y1="1853.4" x2="464.95" y2="1864" stroke="#000" stroke-width="2.52"/>
<rect x="501.1" y="1771.3" width="28.8" height="82.1" fill="#D4D4D4" stroke="#000" stroke-width="3.2"/>
<line x1="515.5" y1="1853.4" x2="515.5" y2="1864" stroke="#000" stroke-width="2.52"/>
<line x1="566.05" y1="1725.4" x2="566.05" y2="1744.7" stroke="#1a1a1a" stroke-width="1.7"/>
<line x1="557.55" y1="1725.4" x2="574.55" y2="1725.4" stroke="#1a1a1a" stroke-width="1.7"/>
<rect x="551.7" y="1746.3" width="28.7" height="107.1" fill="#D4D4D4" stroke="#000" stroke-width="3.2"/>
<line x1="566.05" y1="1853.4" x2="566.05" y2="1864" stroke="#000" stroke-width="2.52"/>
<line x1="429.9" y1="1853.4" x2="601.1" y2="1853.4" stroke="#000" stroke-width="2.8"/>
<text x="141.23" y="1882.6" font-family='"Liberation Sans", sans-serif' font-weight="bold" font-size="18.48" textLength="68.82" lengthAdjust="spacingAndGlyphs">Control</text>
<text class="rl" transform="translate(279.2,1880.7) rotate(-45)" text-anchor="end" font-family='"Liberation Sans", sans-serif' font-weight="bold" font-size="19.2">29 vs Prelude</text>
<text class="rl" transform="translate(330.1,1880.7) rotate(-45)" text-anchor="end" font-family='"Liberation Sans", sans-serif' font-weight="bold" font-size="19.2">2 vs Prelude</text>
<text class="rl" transform="translate(380.7,1880.7) rotate(-45)" text-anchor="end" font-family='"Liberation Sans", sans-serif' font-weight="bold" font-size="19.2">25 vs Prelude</text>
<text class="rl" transform="translate(472.45,1880.5) rotate(-45)" text-anchor="end" font-family='"Liberation Sans", sans-serif' font-weight="bold" font-size="19.2">29 vs Royalty</text>
<text class="rl" transform="translate(523,1880.5) rotate(-45)" text-anchor="end" font-family='"Liberation Sans", sans-serif' font-weight="bold" font-size="19.2">2 vs Royalty</text>
<text class="rl" transform="translate(573.55,1880.5) rotate(-45)" text-anchor="end" font-family='"Liberation Sans", sans-serif' font-weight="bold" font-size="19.2">25 vs Royalty</text>
<!-- panel H -->
<text x="676.15" y="1523.1" font-family='"Liberation Sans", sans-serif' font-weight="bold" font-size="37.97" textLength="24.97" lengthAdjust="spacingAndGlyphs" stroke="#000" stroke-width="1.4" stroke-linejoin="round">H</text>
<text x="890.92" y="1549.7" font-family='"Liberation Sans", sans-serif' font-weight="bold" font-size="24.3">Ear symptoms - day 84</text>
<text transform="translate(753.74,1864.08) rotate(-90)" font-family='"Liberation Sans", sans-serif' font-weight="bold" font-size="21.16">Ear symptoms / plant (rank)</text>
<line x1="820.2" y1="1598.6" x2="820.2" y2="1852.9" stroke="#000" stroke-width="2.8"/>
<line x1="810.1" y1="1600" x2="820.2" y2="1600" stroke="#000" stroke-width="2.8"/>
<text x="778.41" y="1605.8" font-family='"Liberation Serif", serif' font-weight="normal" font-size="22.22" textLength="27.78" lengthAdjust="spacingAndGlyphs" stroke="#000" stroke-width="0.55">3.5</text>
<line x1="810.1" y1="1683.8" x2="820.2" y2="1683.8" stroke="#000" stroke-width="2.8"/>
<text x="778.41" y="1689.6" font-family='"Liberation Serif", serif' font-weight="normal" font-size="22.22" textLength="27.78" lengthAdjust="spacingAndGlyphs" stroke="#000" stroke-width="0.55">3.0</text>
<line x1="810.1" y1="1767.9" x2="820.2" y2="1767.9" stroke="#000" stroke-width="2.8"/>
<text x="778.41" y="1773.7" font-family='"Liberation Serif", serif' font-weight="normal" font-size="22.22" textLength="27.78" lengthAdjust="spacingAndGlyphs" stroke="#000" stroke-width="0.55">2.5</text>
<line x1="810.1" y1="1852.9" x2="820.2" y2="1852.9" stroke="#000" stroke-width="2.8"/>
<text x="778.41" y="1858.7" font-family='"Liberation Serif", serif' font-weight="normal" font-size="22.22" textLength="27.78" lengthAdjust="spacingAndGlyphs" stroke="#000" stroke-width="0.55">2.0</text>
<line x1="860.3" y1="1744.2" x2="860.3" y2="1804.7" stroke="#3a3a3a" stroke-width="1.9"/>
<line x1="849.8" y1="1744.2" x2="870.8" y2="1744.2" stroke="#3a3a3a" stroke-width="1.9"/>
<rect x="840" y="1804.7" width="40.6" height="48.2" fill="#000"/>
<line x1="810.1" y1="1852.9" x2="901.3" y2="1852.9" stroke="#000" stroke-width="2.8"/>
<line x1="859.9" y1="1852.9" x2="859.9" y2="1863" stroke="#000" stroke-width="2.52"/>
<line x1="918.5" y1="1594.2" x2="918.5" y2="1853.4" stroke="#555" stroke-width="1.8"/>
<line x1="1112.6" y1="1594.2" x2="1112.6" y2="1853.4" stroke="#555" stroke-width="1.8"/>
<line x1="963.3" y1="1632.4" x2="963.3" y2="1704.5" stroke="#3a3a3a" stroke-width="1.9"/>
<line x1="954.8" y1="1632.4" x2="971.8" y2="1632.4" stroke="#3a3a3a" stroke-width="1.9"/>
<rect x="948.8" y="1706.1" width="29" height="147.3" fill="#D4D4D4" stroke="#000" stroke-width="3.2"/>
<line x1="963.3" y1="1853.4" x2="963.3" y2="1864" stroke="#000" stroke-width="2.52"/>
<line x1="1013.6" y1="1645" x2="1013.6" y2="1713.7" stroke="#3a3a3a" stroke-width="1.9"/>
<line x1="1005.1" y1="1645" x2="1022.1" y2="1645" stroke="#3a3a3a" stroke-width="1.9"/>
<rect x="999.3" y="1715.3" width="28.6" height="138.1" fill="#D4D4D4" stroke="#000" stroke-width="3.2"/>
<line x1="1013.6" y1="1853.4" x2="1013.6" y2="1864" stroke="#000" stroke-width="2.52"/>
<line x1="1063.75" y1="1632.4" x2="1063.75" y2="1713.7" stroke="#3a3a3a" stroke-width="1.9"/>
<line x1="1055.25" y1="1632.4" x2="1072.25" y2="1632.4" stroke="#3a3a3a" stroke-width="1.9"/>
<rect x="1049.4" y="1715.3" width="28.7" height="138.1" fill="#D4D4D4" stroke="#000" stroke-width="3.2"/>
<line x1="1063.75" y1="1853.4" x2="1063.75" y2="1864" stroke="#000" stroke-width="2.52"/>
<line x1="928.4" y1="1853.4" x2="1098.8" y2="1853.4" stroke="#000" stroke-width="2.8"/>
<line x1="1155.25" y1="1718.5" x2="1155.25" y2="1787.4" stroke="#3a3a3a" stroke-width="1.9"/>
<line x1="1146.75" y1="1718.5" x2="1163.75" y2="1718.5" stroke="#3a3a3a" stroke-width="1.9"/>
<rect x="1141" y="1789" width="28.5" height="64.4" fill="#D4D4D4" stroke="#000" stroke-width="3.2"/>
<line x1="1155.25" y1="1853.4" x2="1155.25" y2="1864" stroke="#000" stroke-width="2.52"/>
<line x1="1205.85" y1="1731.6" x2="1205.85" y2="1770.7" stroke="#3a3a3a" stroke-width="1.9"/>
<line x1="1197.35" y1="1731.6" x2="1214.35" y2="1731.6" stroke="#3a3a3a" stroke-width="1.9"/>
<rect x="1191.6" y="1772.3" width="28.5" height="81.1" fill="#D4D4D4" stroke="#000" stroke-width="3.2"/>
<line x1="1205.85" y1="1853.4" x2="1205.85" y2="1864" stroke="#000" stroke-width="2.52"/>
<line x1="1256.1" y1="1691.9" x2="1256.1" y2="1736.9" stroke="#3a3a3a" stroke-width="1.9"/>
<line x1="1247.6" y1="1691.9" x2="1264.6" y2="1691.9" stroke="#3a3a3a" stroke-width="1.9"/>
<rect x="1241.6" y="1738.5" width="29" height="114.9" fill="#D4D4D4" stroke="#000" stroke-width="3.2"/>
<line x1="1256.1" y1="1853.4" x2="1256.1" y2="1864" stroke="#000" stroke-width="2.52"/>
<line x1="1120.6" y1="1853.4" x2="1291.3" y2="1853.4" stroke="#000" stroke-width="2.8"/>
<text x="825.02" y="1883" font-family='"Liberation Sans", sans-serif' font-weight="normal" font-size="20.69" textLength="69.56" lengthAdjust="spacingAndGlyphs" stroke="#000" stroke-width="0.35">Control</text>
<text class="rl" transform="translate(970.3,1879.3) rotate(-45)" text-anchor="end" font-family='"Liberation Sans", sans-serif' font-weight="bold" font-size="19.1">29 vs Prelude</text>
<text class="rl" transform="translate(1020.6,1879.3) rotate(-45)" text-anchor="end" font-family='"Liberation Sans", sans-serif' font-weight="bold" font-size="19.1">2 vs Prelude</text>
<text class="rl" transform="translate(1070.75,1879.3) rotate(-45)" text-anchor="end" font-family='"Liberation Sans", sans-serif' font-weight="bold" font-size="19.1">25 vs Prelude</text>
<text class="rl" transform="translate(1162.25,1879.3) rotate(-45)" text-anchor="end" font-family='"Liberation Sans", sans-serif' font-weight="bold" font-size="19.1">29 vs Royalty</text>
<text class="rl" transform="translate(1212.85,1879.3) rotate(-45)" text-anchor="end" font-family='"Liberation Sans", sans-serif' font-weight="bold" font-size="19.1">2 vs Royalty</text>
<text class="rl" transform="translate(1263.1,1879.3) rotate(-45)" text-anchor="end" font-family='"Liberation Sans", sans-serif' font-weight="bold" font-size="19.1">25 vs Royalty</text>
<!-- panel I -->
<text x="333.72" y="2049.7" font-family='"Liberation Sans", sans-serif' font-weight="bold" font-size="36.23" textLength="10.15" lengthAdjust="spacingAndGlyphs" stroke="#000" stroke-width="1.4" stroke-linejoin="round">I</text>
<text x="575.28" y="2075.7" font-family='"Liberation Sans", sans-serif' font-weight="bold" font-size="24.09">Survival - day 84</text>
<text transform="translate(393.56,2349.43) rotate(-90)" font-family='"Liberation Sans", sans-serif' font-weight="bold" font-size="20.91">Survival / plant (% )</text>
<line x1="465" y1="2122.3" x2="465" y2="2378.4" stroke="#000" stroke-width="2.8"/>
<line x1="454.4" y1="2123.7" x2="465" y2="2123.7" stroke="#000" stroke-width="2.8"/>
<text x="417.8" y="2130" font-family='"Liberation Sans", sans-serif' font-weight="bold" font-size="21.41" textLength="32.86" lengthAdjust="spacingAndGlyphs">125</text>
<line x1="454.4" y1="2175.1" x2="465" y2="2175.1" stroke="#000" stroke-width="2.8"/>
<text x="418.09" y="2181.4" font-family='"Liberation Sans", sans-serif' font-weight="bold" font-size="21.41" textLength="32.86" lengthAdjust="spacingAndGlyphs">100</text>
<line x1="454.4" y1="2225.9" x2="465" y2="2225.9" stroke="#000" stroke-width="2.8"/>
<text x="428.73" y="2232.2" font-family='"Liberation Sans", sans-serif' font-weight="bold" font-size="21.41" textLength="21.91" lengthAdjust="spacingAndGlyphs">75</text>
<line x1="454.4" y1="2276.9" x2="465" y2="2276.9" stroke="#000" stroke-width="2.8"/>
<text x="429.03" y="2283.2" font-family='"Liberation Sans", sans-serif' font-weight="bold" font-size="21.41" textLength="21.91" lengthAdjust="spacingAndGlyphs">50</text>
<line x1="454.4" y1="2327.9" x2="465" y2="2327.9" stroke="#000" stroke-width="2.8"/>
<text x="428.73" y="2334.2" font-family='"Liberation Sans", sans-serif' font-weight="bold" font-size="21.41" textLength="21.91" lengthAdjust="spacingAndGlyphs">25</text>
<line x1="454.4" y1="2378.4" x2="465" y2="2378.4" stroke="#000" stroke-width="2.8"/>
<text x="439.96" y="2384.7" font-family='"Liberation Sans", sans-serif' font-weight="bold" font-size="21.41" textLength="10.95" lengthAdjust="spacingAndGlyphs">0</text>
<rect x="485.7" y="2175.1" width="39.5" height="203.3" fill="#000"/>
<line x1="454.4" y1="2378.4" x2="546.3" y2="2378.4" stroke="#000" stroke-width="2.8"/>
<line x1="505" y1="2378.4" x2="505" y2="2388.3" stroke="#000" stroke-width="2.52"/>
<line x1="560.8" y1="2120.7" x2="560.8" y2="2380.2" stroke="#555" stroke-width="1.8"/>
<line x1="759.2" y1="2120.7" x2="759.2" y2="2380.2" stroke="#555" stroke-width="1.8"/>
<line x1="607.9" y1="2224" x2="607.9" y2="2257.8" stroke="#3a3a3a" stroke-width="1.9"/>
<line x1="599.4" y1="2224" x2="616.4" y2="2224" stroke="#3a3a3a" stroke-width="1.9"/>
<rect x="592.7" y="2259.4" width="30.4" height="119.4" fill="#C59552" stroke="#000" stroke-width="3.2"/>
<line x1="607.9" y1="2378.8" x2="607.9" y2="2389" stroke="#000" stroke-width="2.52"/>
<text x="602.44" y="2216.02" letter-spacing="1.4" font-family='"Liberation Sans", sans-serif' font-size="28" stroke="#000" stroke-width="0.6" stroke-linejoin="round">*</text>
<line x1="659" y1="2264.7" x2="659" y2="2297.5" stroke="#3a3a3a" stroke-width="1.9"/>
<line x1="650.5" y1="2264.7" x2="667.5" y2="2264.7" stroke="#3a3a3a" stroke-width="1.9"/>
<rect x="644.6" y="2299.1" width="28.8" height="79.7" fill="#C59552" stroke="#000" stroke-width="3.2"/>
<line x1="659" y1="2378.8" x2="659" y2="2389" stroke="#000" stroke-width="2.52"/>
<text x="641.24" y="2255.52" letter-spacing="1.4" font-family='"Liberation Sans", sans-serif' font-size="28" stroke="#000" stroke-width="0.6" stroke-linejoin="round">***</text>
<line x1="709.4" y1="2286.8" x2="709.4" y2="2319.4" stroke="#3a3a3a" stroke-width="1.9"/>
<line x1="700.9" y1="2286.8" x2="717.9" y2="2286.8" stroke="#3a3a3a" stroke-width="1.9"/>
<rect x="694.9" y="2321" width="29" height="57.8" fill="#C59552" stroke="#000" stroke-width="3.2"/>
<line x1="709.4" y1="2378.8" x2="709.4" y2="2389" stroke="#000" stroke-width="2.52"/>
<text x="685.5" y="2279.22" letter-spacing="1.4" font-family='"Liberation Sans", sans-serif' font-size="28" stroke="#000" stroke-width="0.6" stroke-linejoin="round">****</text>
<line x1="573.4" y1="2378.8" x2="743.8" y2="2378.8" stroke="#000" stroke-width="2.8"/>
<rect x="786.8" y="2177.4" width="28.5" height="201.2" fill="#D4D4D4" stroke="#000" stroke-width="3.2"/>
<line x1="801.05" y1="2378.6" x2="801.05" y2="2389" stroke="#000" stroke-width="2.52"/>
<rect x="837.3" y="2177.4" width="29.7" height="201.2" fill="#D4D4D4" stroke="#000" stroke-width="3.2"/>
<line x1="852.15" y1="2378.6" x2="852.15" y2="2389" stroke="#000" stroke-width="2.52"/>
<line x1="903.15" y1="2175.8" x2="903.15" y2="2197.6" stroke="#3a3a3a" stroke-width="1.9"/>
<line x1="894.65" y1="2175.8" x2="911.65" y2="2175.8" stroke="#3a3a3a" stroke-width="1.9"/>
<rect x="889" y="2199.2" width="28.3" height="179.4" fill="#D4D4D4" stroke="#000" stroke-width="3.2"/>
<line x1="903.15" y1="2378.6" x2="903.15" y2="2389" stroke="#000" stroke-width="2.52"/>
<line x1="766.8" y1="2378.6" x2="938" y2="2378.6" stroke="#000" stroke-width="2.8"/>
<text x="469.62" y="2408.9" font-family='"Liberation Sans", sans-serif' font-weight="normal" font-size="21.38" textLength="69.56" lengthAdjust="spacingAndGlyphs" stroke="#000" stroke-width="0.35">Control</text>
<text class="rl" transform="translate(614.3,2405.2) rotate(-45)" text-anchor="end" font-family='"Liberation Sans", sans-serif' font-weight="bold" font-size="19.1">29 vs Prelude</text>
<text class="rl" transform="translate(665.4,2405.2) rotate(-45)" text-anchor="end" font-family='"Liberation Sans", sans-serif' font-weight="bold" font-size="19.1">2 vs Prelude</text>
<text class="rl" transform="translate(715.8,2405.2) rotate(-45)" text-anchor="end" font-family='"Liberation Sans", sans-serif' font-weight="bold" font-size="19.1">25 vs Prelude</text>
<text class="rl" transform="translate(807.45,2405) rotate(-45)" text-anchor="end" font-family='"Liberation Sans", sans-serif' font-weight="bold" font-size="19.1">29 vs Royalty</text>
<text class="rl" transform="translate(858.55,2405) rotate(-45)" text-anchor="end" font-family='"Liberation Sans", sans-serif' font-weight="bold" font-size="19.1">2 vs Royalty</text>
<text class="rl" transform="translate(909.55,2405) rotate(-45)" text-anchor="end" font-family='"Liberation Sans", sans-serif' font-weight="bold" font-size="19.1">25 vs Royalty</text>
</svg>
</body></html>
